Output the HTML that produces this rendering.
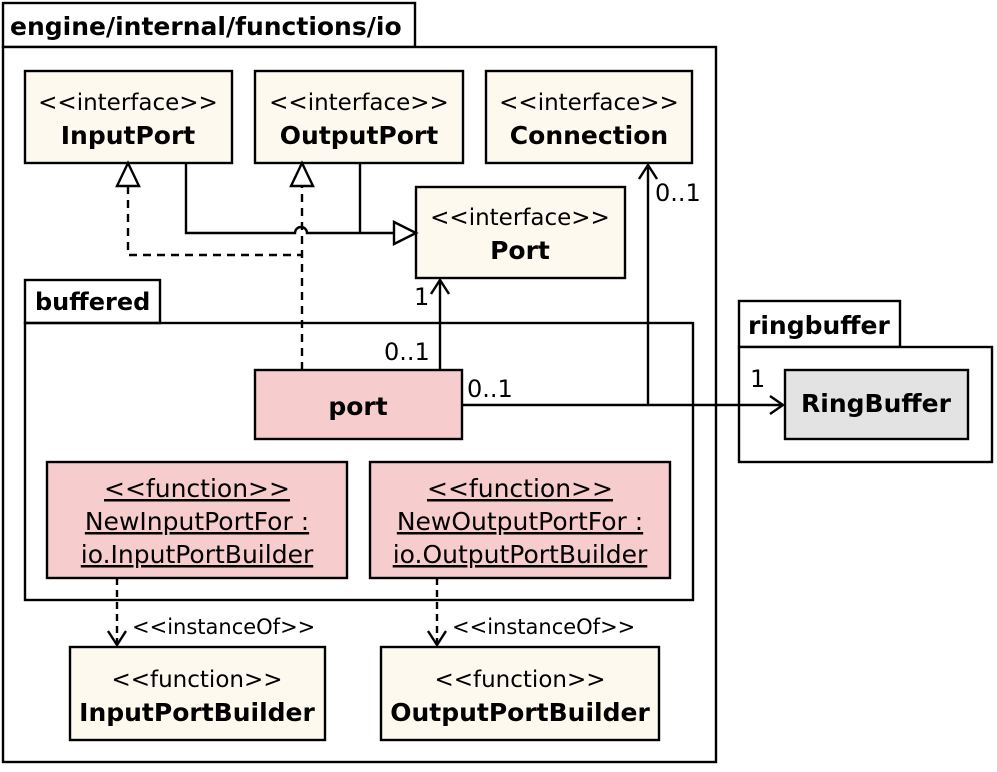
<!DOCTYPE html>
<html><head><meta charset="utf-8"><style>
html,body{margin:0;padding:0;background:#fff}
text{font-family:"DejaVu Sans","Liberation Sans",sans-serif;fill:#000}
.s{font-size:23px}.b{font-size:25px;font-weight:bold}.l{font-size:24px}
</style></head><body>
<svg width="997" height="767" viewBox="0 0 997 767" xmlns="http://www.w3.org/2000/svg">
<g fill="none" stroke="#000" stroke-width="2.4">
<rect x="3" y="3" width="412" height="44" fill="#fff"/>
<rect x="3" y="47" width="713" height="715" fill="#fff"/>
<rect x="25" y="71" width="207" height="92" fill="#fdf9ef"/>
<rect x="255" y="71" width="208" height="92" fill="#fdf9ef"/>
<rect x="486" y="71" width="206" height="92" fill="#fdf9ef"/>
<rect x="416" y="187" width="209" height="91" fill="#fdf9ef"/>
<rect x="25" y="280" width="135" height="43" fill="#fff"/>
<rect x="25" y="323" width="668" height="277" fill="none"/>
<rect x="255" y="370" width="207" height="69" fill="#f7cccc"/>
<rect x="47" y="462" width="300" height="116" fill="#f7cccc"/>
<rect x="370" y="462" width="300" height="116" fill="#f7cccc"/>
<rect x="70" y="647" width="255" height="93" fill="#fdf9ef"/>
<rect x="381" y="647" width="278" height="93" fill="#fdf9ef"/>
<rect x="739" y="301" width="161" height="46" fill="#fff"/>
<rect x="739" y="347" width="253" height="115" fill="#fff"/>
<rect x="785" y="370" width="183" height="69" fill="#e3e3e3"/>
<path d="M186 163V233H295A6 6 0 0 1 307 233H394M360 163V233"/>
<polygon points="394,222 416,233 394,244" fill="#fff"/>
<path d="M128 186V255H302M302 370V186" stroke-dasharray="8,6"/>
<polygon points="128,163 117,186 139,186" fill="#fff"/>
<polygon points="302,163 291,186 313,186" fill="#fff"/>
<path d="M440 370V280M431 294L440 280L449 294"/>
<path d="M462 405H783M770 396L783 405L770 414"/>
<path d="M648 405V165M639 179L648 165L657 179"/>
<path d="M117 578V645M437 578V645" stroke-dasharray="7,5"/>
<path d="M108 631L117 645L126 631M428 631L437 645L446 631"/>
</g>
<text x="10" y="35" style="font-size:25px;font-weight:bold">engine/internal/functions/io</text>
<text x="35" y="310" style="font-size:24px;font-weight:bold">buffered</text>
<text x="748" y="334" style="font-size:25px;font-weight:bold">ringbuffer</text>
<g text-anchor="middle">
<text x="128" y="110" class="s">&lt;&lt;interface&gt;&gt;</text><text x="128" y="144" class="b">InputPort</text>
<text x="359" y="110" class="s">&lt;&lt;interface&gt;&gt;</text><text x="359" y="144" class="b">OutputPort</text>
<text x="589" y="110" class="s">&lt;&lt;interface&gt;&gt;</text><text x="589" y="144" class="b">Connection</text>
<text x="520" y="225" class="s">&lt;&lt;interface&gt;&gt;</text><text x="520" y="259" class="b">Port</text>
<text x="358" y="415" class="b">port</text>
<text x="876" y="412" class="b">RingBuffer</text>
<g text-decoration="underline" style="font-size:25px">
<text x="197" y="497">&lt;&lt;function&gt;&gt;</text><text x="197" y="530">NewInputPortFor :</text><text x="197" y="563">io.InputPortBuilder</text>
<text x="520" y="497">&lt;&lt;function&gt;&gt;</text><text x="520" y="530">NewOutputPortFor :</text><text x="520" y="563">io.OutputPortBuilder</text>
</g>
<text x="197" y="687" class="s">&lt;&lt;function&gt;&gt;</text><text x="197" y="721" class="b">InputPortBuilder</text>
<text x="520" y="687" class="s">&lt;&lt;function&gt;&gt;</text><text x="520" y="721" class="b">OutputPortBuilder</text>
</g>
<text x="414" y="305" class="l">1</text>
<text x="384" y="360" class="l">0..1</text>
<text x="467" y="397" class="l">0..1</text>
<text x="750" y="387" class="l">1</text>
<text x="655" y="201" class="l">0..1</text>
<text x="132" y="634" style="font-size:21px">&lt;&lt;instanceOf&gt;&gt;</text>
<text x="452" y="634" style="font-size:21px">&lt;&lt;instanceOf&gt;&gt;</text>
</svg>
</body></html>
